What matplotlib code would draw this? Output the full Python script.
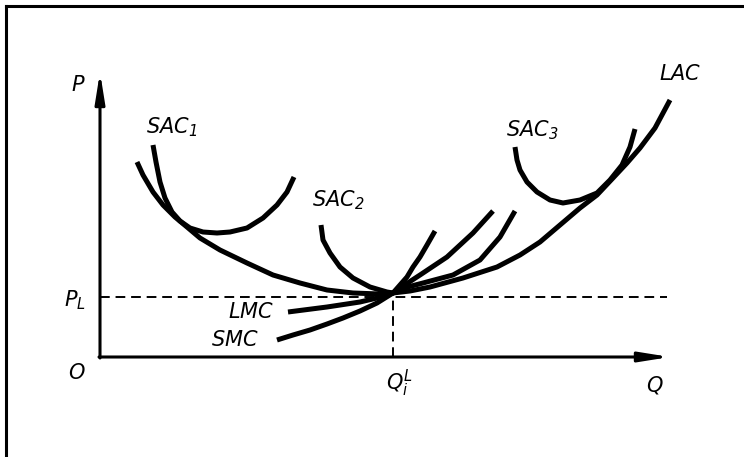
import matplotlib
matplotlib.use("Agg")
from matplotlib import pyplot as plt
from matplotlib.lines import Line2D

plt.rcParams['mathtext.fontset'] = 'custom'
plt.rcParams['mathtext.it'] = 'DejaVu Sans:italic'
plt.rcParams['mathtext.rm'] = 'DejaVu Sans:italic'

# curves (Q, P)
lac_q = [37, 43, 53, 63, 75, 87, 100, 120, 147, 173, 200, 227, 253, 280, 293, 310, 330,
         363, 397, 420, 440, 460, 480, 497, 513, 527, 540, 555, 570]
lac_p = [195, 182, 165, 152, 140, 130, 119, 107, 94, 82, 74, 67, 64, 63, 64, 66, 70,
         79, 90, 102, 115, 132, 149, 162, 179, 194, 209, 229, 257]

sac1_q = [53, 56, 60, 65, 72, 80, 90, 103, 117, 130, 147, 163, 177, 187, 194]
sac1_p = [212, 195, 175, 159, 145, 136, 129, 125, 124, 125, 129, 139, 152, 165, 180]

sac2_q = [221, 223, 230, 240, 253, 270, 287, 293, 300, 307, 313, 320, 327, 335]
sac2_p = [132, 117, 104, 90, 79, 70, 65, 64, 72, 80, 90, 100, 112, 126]

sac3_q = [415, 417, 420, 427, 437, 450, 463, 480, 497, 510, 522, 530, 535]
sac3_p = [210, 197, 187, 175, 165, 157, 154, 157, 164, 177, 192, 210, 228]

smc_q = [177, 193, 210, 227, 243, 260, 277, 293, 300, 320, 347, 360, 373, 393]
smc_p = [17, 22, 27, 33, 39, 46, 54, 64, 69, 82, 100, 112, 124, 146]

lmc_q = [188, 227, 260, 277, 293, 300, 323, 353, 380, 400, 415]
lmc_p = [45, 50, 55, 59, 64, 68, 74, 82, 97, 120, 146]

q_max = 570
p_max = 285
q_l = 293
p_l = 60

fig = plt.figure(figsize=(7.44, 4.57), dpi=100)
ax = fig.add_axes([0, 0, 1, 1])
ax.set_xlim(-100, 644)
ax.set_ylim(-100, 357)
ax.axis('off')

# frame of the scan (left and top edges only)
fig.add_artist(Line2D([6/744, 6/744], [0, 1 - 6/457], transform=fig.transFigure, color='black', lw=2.2))
fig.add_artist(Line2D([6/744, 1], [1 - 6/457, 1 - 6/457], transform=fig.transFigure, color='black', lw=2.2))

# axes with arrows
arrow = dict(arrowstyle='-|>,head_length=1.0,head_width=0.16', lw=2.2, color='black',
             mutation_scale=18, shrinkA=0, shrinkB=0)
ax.annotate('', xy=(q_max, 0), xytext=(-1, 0), arrowprops=arrow)
ax.annotate('', xy=(0, p_max), xytext=(0, -1), arrowprops=arrow)

# dashed guides
ax.plot([0, q_max - 3], [p_l, p_l], color='black', lw=1.4, ls=(0, (5, 3)))
ax.plot([q_l, q_l], [0, p_l], color='black', lw=1.4, ls=(0, (5, 3)))

curve = dict(color='black', lw=3.6, solid_capstyle='butt', solid_joinstyle='round')
for q, p in [(lac_q, lac_p), (sac1_q, sac1_p), (sac2_q, sac2_p),
             (sac3_q, sac3_p), (smc_q, smc_p), (lmc_q, lmc_p)]:
    ax.plot(q, p, **curve)

txt = dict(fontsize=15, ha='center', va='center', color='black')
ax.text(-22, 272, r'$\mathit{P}$', **txt)
ax.text(72, 230, r'$\mathit{SAC}_{\mathit{1}}$', **txt)
ax.text(238, 157, r'$\mathit{SAC}_{\mathit{2}}$', **txt)
ax.text(432, 227, r'$\mathit{SAC}_{\mathit{3}}$', **txt)
ax.text(580, 283, r'$\mathit{LAC}$', **txt)
ax.text(-25, 57, r'$\mathit{P}_{\mathit{L}}$', **txt)
ax.text(151, 45, r'$\mathit{LMC}$', **txt)
ax.text(135, 17, r'$\mathit{SMC}$', **txt)
ax.text(-23, -16, r'$\mathit{O}$', **txt)
ax.text(300, -26, r'$\mathit{Q}_{\mathit{i}}^{\mathit{L}}$', **txt)
ax.text(555, -28, r'$\mathit{Q}$', **txt)

fig.savefig('out.png', dpi=100)
